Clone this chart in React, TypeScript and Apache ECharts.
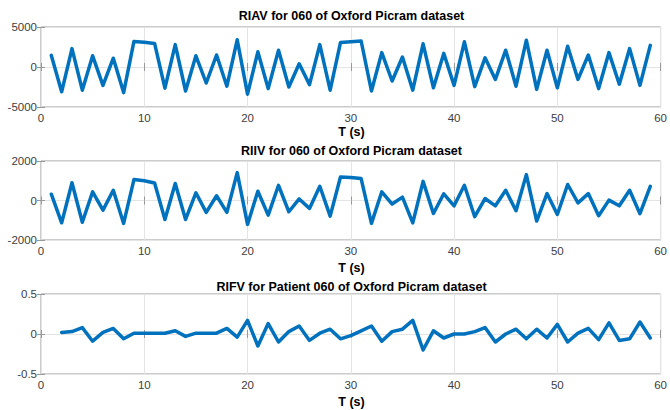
import React, { useEffect, useRef } from "react";
import * as echarts from "echarts";

const tAV = [1,2,3,4,5,6,7,8,9,10,11,12,13,14,15,16,17,18,19,20,21,22,23,24,25,26,27,28,29,30,31,32,33,34,35,36,37,38,39,40,41,42,43,44,45,46,47,48,49,50,51,52,53,54,55,56,57,58,59];
const riav = [1450,-3100,2300,-2900,1400,-2300,1100,-3200,3200,3100,2950,-2650,2800,-3000,1400,-2000,1500,-2400,3400,-3400,1900,-2700,2100,-2500,400,-2200,2800,-2900,3050,3150,3250,-3000,1800,-1750,1250,-2900,2900,-2600,1700,-2300,3150,-2450,1150,-1550,2100,-2400,3350,-2800,2100,-2600,2600,-1550,1500,-2700,1800,-2150,2300,-2300,2700];
const riiv = [320,-1130,900,-1100,440,-490,520,-1160,1060,1000,890,-960,860,-960,390,-600,240,-600,1410,-1210,470,-740,770,-570,80,-400,720,-790,1190,1170,1110,-1160,440,-180,170,-1130,970,-660,340,-270,770,-820,100,-270,520,-520,1310,-1040,350,-710,810,-120,350,-770,20,-270,520,-670,720];
const tFV = [2,3,4,5,6,7,8,9,10,11,12,13,14,15,16,17,18,19,20,21,22,23,24,25,26,27,28,29,30,31,32,33,34,35,36,37,38,39,40,41,42,43,44,45,46,47,48,49,50,51,52,53,54,55,56,57,58,59];
const rifv = [0.02,0.03,0.08,-0.09,0.02,0.07,-0.06,0.01,0.01,0.01,0.01,0.04,-0.03,0.01,0.01,0.01,0.07,-0.04,0.17,-0.15,0.13,-0.1,0.03,0.1,-0.08,0.01,0.06,-0.06,-0.02,0.04,0.1,-0.09,0.03,0.06,0.17,-0.2,0.04,-0.05,0.0,0.0,0.03,0.08,-0.1,0.0,0.06,-0.06,0.06,-0.05,0.12,-0.1,0.01,0.07,-0.07,0.14,-0.08,-0.06,0.15,-0.05];

const titles = [
  "RIAV for 060 of Oxford Picram dataset",
  "RIIV for 060 of Oxford Picram dataset",
  "RIFV for Patient 060 of Oxford Picram dataset",
];
const xTicks = { min: 0, max: 60, interval: 10 };
const yRanges = [
  { min: -5000, max: 5000, interval: 5000 },
  { min: -2000, max: 2000, interval: 2000 },
  { min: -0.5, max: 0.5, interval: 0.5 },
];

const FONT = "Liberation Sans, Arial, sans-serif";

export default function App() {
  const ref = useRef<HTMLDivElement>(null);
  useEffect(() => {
    document.body.style.margin = "0";
    const chart = echarts.init(ref.current!, null, { renderer: "svg" });
    const layout = [
      { top: 27, height: 80, titleY: 16, nameY: 132 },
      { top: 161, height: 79, titleY: 151, nameY: 268 },
      { top: 294, height: 80, titleY: 287, nameY: 402 },
    ];
    const left = 41;
    const right = 8;
    const boxColor = "#999999";
    const gridColor = "#e4e4e4";
    const labelColor = "#404040";
    const fmt = (v: number) => String(v);
    const seriesData = [
      tAV.map((t, i) => [t, riav[i]]),
      tAV.map((t, i) => [t, riiv[i]]),
      tFV.map((t, i) => [t, rifv[i]]),
    ];
    const grid: any[] = [];
    const xAxis: any[] = [];
    const yAxis: any[] = [];
    const series: any[] = [];
    const graphic: any[] = [];
    layout.forEach((l, i) => {
      grid.push({ left, right, top: l.top, height: l.height, show: true, borderColor: boxColor, borderWidth: 1, backgroundColor: "#fff" });
      xAxis.push({
        gridIndex: i, type: "value", position: "bottom", ...xTicks,
        axisLine: { show: false },
        axisTick: { show: true, inside: true, length: 4, lineStyle: { color: boxColor } },
        axisLabel: { color: labelColor, fontSize: 11.5, fontFamily: FONT, margin: 5, formatter: fmt },
        splitLine: { show: true, lineStyle: { color: gridColor, width: 1 } },
      });
      xAxis.push({
        gridIndex: i, type: "value", position: "top", ...xTicks,
        axisLine: { show: false },
        axisTick: { show: true, inside: true, length: 4, lineStyle: { color: boxColor } },
        axisLabel: { show: false },
        splitLine: { show: false },
      });
      yAxis.push({
        gridIndex: i, type: "value", position: "left", ...yRanges[i],
        axisLine: { show: false },
        axisTick: { show: true, inside: true, length: 4, lineStyle: { color: boxColor } },
        axisLabel: { color: labelColor, fontSize: 11.5, fontFamily: FONT, margin: 4, formatter: fmt },
        splitLine: { show: true, lineStyle: { color: gridColor, width: 1 } },
      });
      yAxis.push({
        gridIndex: i, type: "value", position: "right", ...yRanges[i],
        axisLine: { show: false },
        axisTick: { show: true, inside: true, length: 4, lineStyle: { color: boxColor } },
        axisLabel: { show: false },
        splitLine: { show: false },
      });
      series.push({
        type: "line", xAxisIndex: 2 * i, yAxisIndex: 2 * i,
        data: seriesData[i], showSymbol: false, symbol: "none",
        lineStyle: { color: "#0072BD", width: 3.5, join: "round", cap: "round" },
        z: 3,
      });
      const cx = left + (670 - left - right) / 2;
      graphic.push({
        type: "text", x: cx, y: l.titleY,
        style: { text: titles[i], textAlign: "center", textVerticalAlign: "middle", font: `bold 12.5px ${FONT}`, fill: "#000" },
      });
      graphic.push({
        type: "text", x: cx, y: l.nameY,
        style: { text: "T (s)", textAlign: "center", textVerticalAlign: "middle", font: `bold 12.5px ${FONT}`, fill: "#000" },
      });
    });
    chart.setOption({
      animation: false,
      backgroundColor: "#fff",
      grid, xAxis, yAxis, series, graphic,
    });
    return () => chart.dispose();
  }, []);
  return <div ref={ref} style={{ width: 670, height: 410 }} />;
}
